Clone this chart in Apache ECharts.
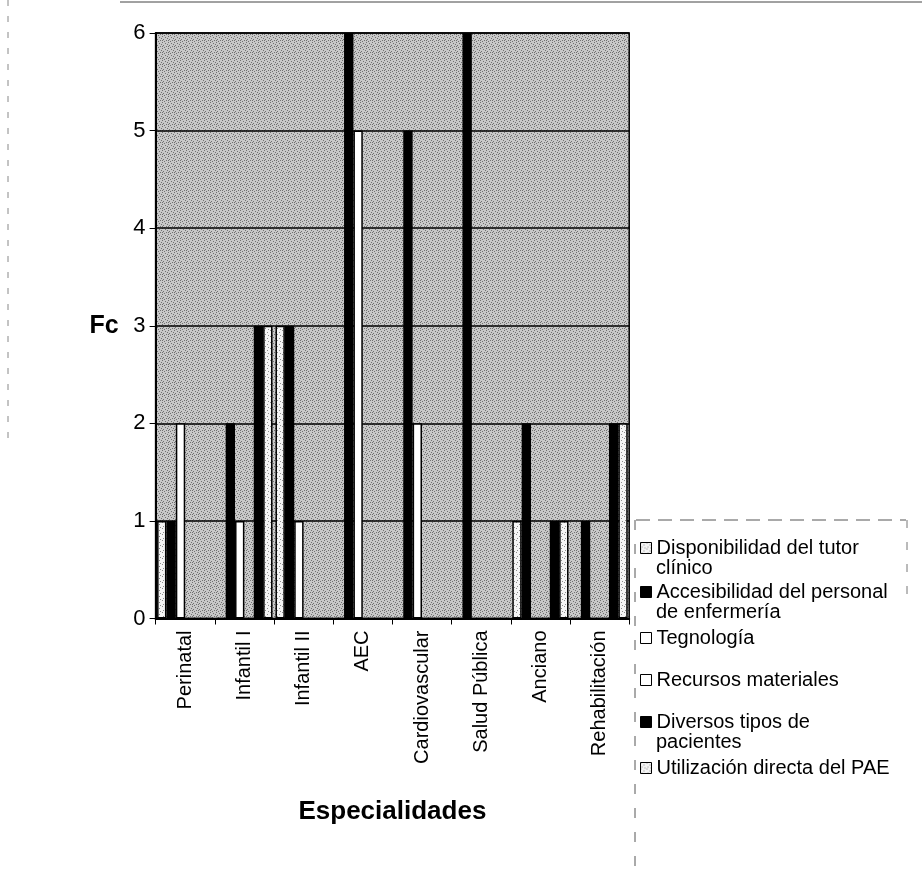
<!DOCTYPE html>
<html>
<head>
<meta charset="utf-8">
<script src="https://cdn.jsdelivr.net/npm/echarts@6/dist/echarts.min.js"></script>
<style>
  html, body { margin: 0; padding: 0; background: #ffffff; }
  #chart { width: 922px; height: 878px; }
</style>
</head>
<body>
<div id="chart"></div>
<script>
// Specialties on the horizontal axis
const categories = ['Perinatal', 'Infantil I', 'Infantil II', 'AEC', 'Cardiovascular', 'Salud Pública', 'Anciano', 'Rehabilitación'];

// Factor names (legend)
const seriesNames = [
  'Disponibilidad del tutor clínico',
  'Accesibilidad del personal de enfermería',
  'Tegnología',
  'Recursos materiales',
  'Diversos tipos de pacientes',
  'Utilización directa del PAE'
];

// Frequency (Fc) of each factor per specialty
const disponibilidadTutor   = [1, 0, 3, 0, 0, 0, 1, 0];
const accesibilidadPersonal = [1, 2, 3, 6, 5, 6, 2, 1];
const tegnologia            = [2, 1, 1, 5, 2, 0, 0, 0];
const recursosMateriales    = [0, 0, 0, 0, 0, 0, 0, 0];
const diversosPacientes     = [0, 3, 0, 0, 0, 0, 1, 2];
const utilizacionPAE        = [0, 3, 0, 0, 0, 0, 1, 2];

// Value axis ticks
const yTicks = [0, 1, 2, 3, 4, 5, 6];

// Legend text as it wraps in the key box: first line next to the swatch, optional second line
const legendFirstLines  = ['Disponibilidad del tutor', 'Accesibilidad del personal', 'Tegnología', 'Recursos materiales', 'Diversos tipos de', 'Utilización directa del PAE'];
const legendSecondLines = ['clínico', 'de enfermería', '', '', 'pacientes', ''];

const FONT = "'Liberation Sans', Arial, sans-serif";

// Small dotted fill patterns (plot wall and the stippled series)
function dotPattern(base, dot, cells, size) {
  const c = document.createElement('canvas');
  c.width = size; c.height = size;
  const g = c.getContext('2d');
  g.fillStyle = base;
  g.fillRect(0, 0, size, size);
  g.fillStyle = dot;
  cells.forEach(function (p) { g.fillRect(p[0], p[1], 1, 1); });
  return { image: c, repeat: 'repeat' };
}
const wallFill = dotPattern('#c8c8c8', '#707070',
  [[0, 0], [3, 1], [1, 3], [4, 4], [2, 5], [5, 2], [0, 4]], 6);
const stippleFill = dotPattern('#f4f4f4', '#8c8c8c',
  [[0, 0], [3, 2], [1, 4], [4, 5]], 6);

const seriesData = [disponibilidadTutor, accesibilidadPersonal, tegnologia, recursosMateriales, diversosPacientes, utilizacionPAE];
const seriesFills = [stippleFill, '#000000', '#ffffff', '#ffffff', '#000000', stippleFill];

const series = seriesNames.map(function (name, i) {
  return {
    name: name,
    type: 'bar',
    data: seriesData[i],
    barGap: '0%',
    barCategoryGap: '5%',
    itemStyle: { color: seriesFills[i], borderColor: '#000000', borderWidth: 1.5 },
    emphasis: { disabled: true },
    animation: false
  };
});

// One legend block per entry so each swatch sits on the first text line
const legendCenters = [548, 592, 638, 680, 722, 768];
const LEGEND_X = 640;
const legends = seriesNames.map(function (name, i) {
  return {
    data: [name],
    orient: 'vertical',
    left: LEGEND_X,
    top: legendCenters[i] - 10,
    padding: 0,
    itemWidth: 11,
    itemHeight: 11,
    icon: 'rect',
    selectedMode: false,
    formatter: function () { return legendFirstLines[i]; },
    itemStyle: { borderColor: '#000000', borderWidth: 1 },
    textStyle: { fontFamily: FONT, fontSize: 20, color: '#000000', lineHeight: 20 }
  };
});

// Wrapped continuation lines of the legend entries
const legendWraps = [];
legendSecondLines.forEach(function (txt, i) {
  if (!txt) return;
  legendWraps.push({
    type: 'text', silent: true,
    x: LEGEND_X + 16, y: legendCenters[i] + 20,
    style: { text: txt, fontFamily: FONT, fontSize: 20, fill: '#000000', verticalAlign: 'middle', align: 'left' }
  });
});

const chart = echarts.init(document.getElementById('chart'), null, { renderer: 'canvas' });
chart.setOption({
  backgroundColor: '#ffffff',
  animation: false,
  textStyle: { fontFamily: FONT },
  grid: {
    left: 155.6, right: 292.8, top: 33, bottom: 259.5,
    show: true, backgroundColor: wallFill, borderColor: '#000000', borderWidth: 1.5,
    containLabel: false
  },
  legend: legends,
  xAxis: {
    type: 'category',
    data: categories,
    name: 'Especialidades',
    nameLocation: 'middle',
    nameGap: 180,
    nameTextStyle: { fontFamily: FONT, fontSize: 26, fontWeight: 'bold', color: '#000000' },
    axisLine: { show: true, lineStyle: { color: '#000000', width: 2 } },
    axisTick: { show: true, alignWithLabel: false, length: 6, lineStyle: { color: '#000000', width: 1 } },
    axisLabel: { rotate: 90, fontFamily: FONT, fontSize: 20, color: '#000000', margin: 12, interval: 0 },
    splitLine: { show: false }
  },
  yAxis: {
    type: 'value',
    min: yTicks[0],
    max: yTicks[yTicks.length - 1],
    interval: 1,
    name: 'Fc',
    nameLocation: 'middle',
    nameRotate: 0,
    nameGap: 37,
    nameTextStyle: { fontFamily: FONT, fontSize: 25, fontWeight: 'bold', color: '#000000', align: 'right', verticalAlign: 'middle' },
    axisLine: { show: true, lineStyle: { color: '#000000', width: 2 } },
    axisTick: { show: true, length: 6, lineStyle: { color: '#000000', width: 1 } },
    axisLabel: { fontFamily: FONT, fontSize: 22, color: '#000000', margin: 10 },
    splitLine: { show: true, lineStyle: { color: '#000000', width: 1.5 } }
  },
  graphic: [
    { type: 'line', silent: true, shape: { x1: 120, y1: 2, x2: 922, y2: 2 }, style: { stroke: '#444444', lineWidth: 1 } },
    { type: 'line', silent: true, shape: { x1: 8, y1: 0, x2: 8, y2: 440 }, style: { stroke: '#888888', lineWidth: 1, lineDash: [6, 10] } },
    { type: 'line', silent: true, shape: { x1: 636, y1: 520, x2: 906, y2: 520 }, style: { stroke: '#555555', lineWidth: 1, lineDash: [14, 8] } },
    { type: 'line', silent: true, shape: { x1: 635, y1: 520, x2: 635, y2: 878 }, style: { stroke: '#555555', lineWidth: 1, lineDash: [10, 14] } },
    { type: 'line', silent: true, shape: { x1: 907, y1: 520, x2: 907, y2: 600 }, style: { stroke: '#777777', lineWidth: 1, lineDash: [8, 14] } }
  ].concat(legendWraps),
  series: series
});
</script>
</body>
</html>
